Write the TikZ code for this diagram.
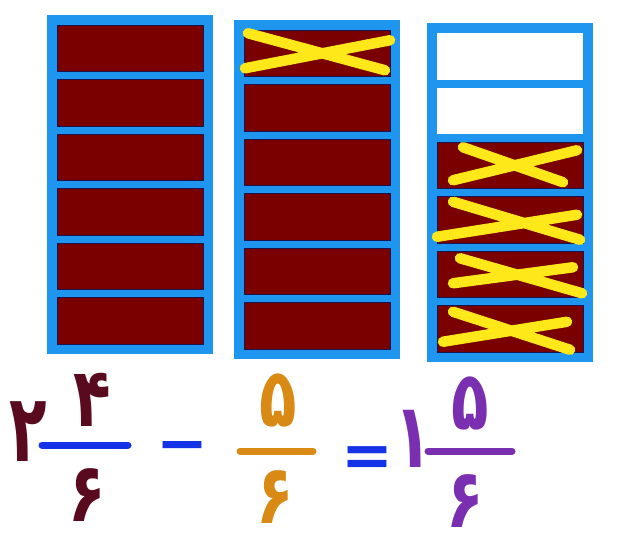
\documentclass[tikz,border=0pt]{standalone}
\usepackage{fontspec}
\newfontfamily\farsi[Script=Arabic]{DejaVu Sans}
\usetikzlibrary{positioning, calc}
\definecolor{bkBlau}{HTML}{1E96F0}
\definecolor{bkRot}{HTML}{7A0000}
\definecolor{bkRand}{HTML}{1A1450}
\definecolor{bkGelb}{HTML}{FFE81A}
\definecolor{bkDunkel}{HTML}{5A0A1E}
\definecolor{bkOrange}{HTML}{D98A14}
\definecolor{bkLila}{HTML}{7A2FB0}
\definecolor{bkStrich}{HTML}{1432E6}

\begin{document}
\begin{tikzpicture}[x=1pt, y=-1pt]
  \tikzset{
    zelle/.style={draw=bkRand, line width=0.8pt, minimum width=146pt,
                  minimum height=46.5pt, inner sep=0pt},
    xmark/.style={draw=bkGelb, line width=10.5pt, line cap=round},
    ziffer/.style={font=\farsi\bfseries\fontsize{82}{82}\selectfont,
                   inner sep=0pt, xscale=0.75},
    zeichen/.style={font=\farsi\bfseries\fontsize{62}{62}\selectfont,
                    inner sep=0pt, text=bkStrich},
    bruch/.style={line width=7pt, line cap=round}}
  \useasboundingbox (0,0) rectangle (620,551);
  % drei Streifen mit je sechs Teilen
  \foreach \k/\x/\y/\w in {1/47/15/0, 2/234/20/0, 3/427/23/2}{
    \fill[bkBlau] (\x,\y) rectangle ++(166,339);
    \foreach \r in {1,...,6}{
      \ifnum\r>\w\relax
        \node[zelle, fill=bkRot] (c\k\r) at (\x+83, \y+33.25+\r*54.5-54.5) {};
      \else
        \node[zelle, fill=white, draw=none] (c\k\r) at (\x+83, \y+33.25+\r*54.5-54.5) {};
      \fi}}
  % weggenommene Teile
  \foreach \c/\a/\b/\p/\q/\s/\t/\u/\v in {c21/-69/-20/68/17/73/-13/-72/15,
      c33/-47/-18/53/17/67/-15/-57/15, c34/-57/-18/70/20/67/-5/-73/17,
      c35/-50/-16/72/19/63/-7/-57/9, c36/-57/-17/60/21/57/-7/-67/13}
    \draw[xmark] ([shift={(\a,\b)}]\c.center) -- ([shift={(\p,\q)}]\c.center)
                 ([shift={(\s,\t)}]\c.center) -- ([shift={(\u,\v)}]\c.center);
  % Rechnung
  \node[ziffer, text=bkDunkel, yscale=1.15] (ganz1) at (28,432) {۲};
  \node[ziffer, text=bkDunkel] (z1) at (92,400) {۴};
  \node[ziffer, text=bkDunkel] (n1) at (87,495) {۶};
  \draw[bruch, bkStrich] (42,445) -- (128,445);
  \node[zeichen] (minus) at (182,453) {−};
  \node[ziffer, text=bkOrange] (z2) at (278,400) {۵};
  \node[ziffer, text=bkOrange] (n2) at (275,497) {۶};
  \draw[bruch, bkOrange] (240,451) -- (313,451);
  \node[zeichen] (gleich) at (367,462) {=};
  \node[ziffer, text=bkLila, yscale=1.1] (ganz3) at (413,439) {۱};
  \node[ziffer, text=bkLila] (z3) at (470,403) {۵};
  \node[ziffer, text=bkLila] (n3) at (465,501) {۶};
  \draw[bruch, bkLila] (428,451) -- (512,451);
\end{tikzpicture}
\end{document}
